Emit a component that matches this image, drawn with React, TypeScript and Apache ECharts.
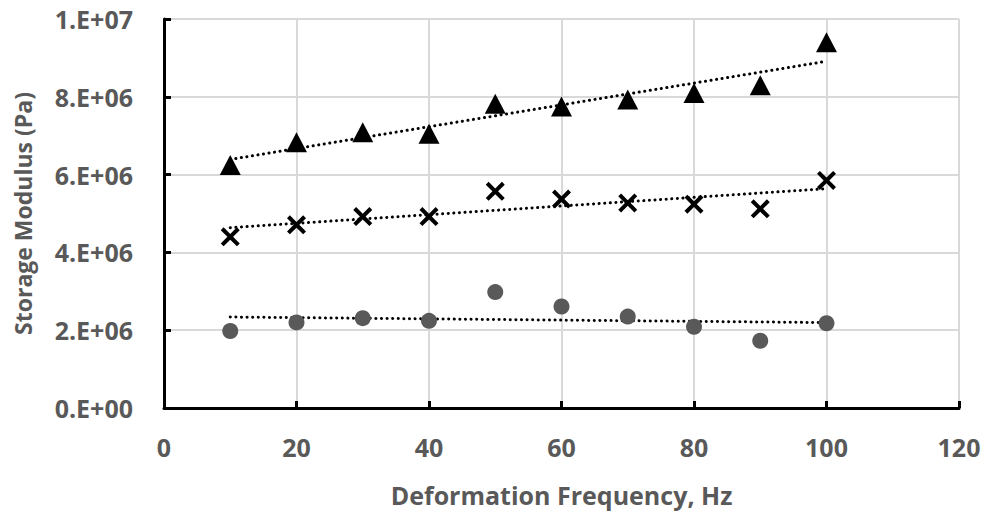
import React, { useEffect, useRef } from "react";
import * as echarts from "echarts";

const frequencies = [10, 20, 30, 40, 50, 60, 70, 80, 90, 100];
const triangleValues = [6.25e6, 6.83e6, 7.09e6, 7.05e6, 7.82e6, 7.75e6, 7.93e6, 8.1e6, 8.3e6, 9.4e6];
const crossValues = [4.4e6, 4.71e6, 4.92e6, 4.92e6, 5.57e6, 5.37e6, 5.27e6, 5.24e6, 5.12e6, 5.85e6];
const circleValues = [1.98e6, 2.2e6, 2.31e6, 2.24e6, 2.98e6, 2.61e6, 2.35e6, 2.09e6, 1.73e6, 2.18e6];

const xTitle = "Deformation Frequency, Hz";
const yTitle = "Storage Modulus (Pa)";

function fit(xs: number[], ys: number[]) {
  const n = xs.length;
  const mx = xs.reduce((a, b) => a + b, 0) / n;
  const my = ys.reduce((a, b) => a + b, 0) / n;
  let sxy = 0, sxx = 0;
  for (let i = 0; i < n; i++) {
    sxy += (xs[i] - mx) * (ys[i] - my);
    sxx += (xs[i] - mx) ** 2;
  }
  const b = sxy / sxx;
  const a = my - b * mx;
  const x0 = xs[0], x1 = xs[n - 1];
  return [[x0, a + b * x0], [x1, a + b * x1]];
}

function sciLabel(v: number) {
  if (v === 0) return "0.E+00";
  const e = Math.floor(Math.log10(v) + 1e-9);
  const m = Math.round(v / Math.pow(10, e));
  return `${m}.E+${String(e).padStart(2, "0")}`;
}

const crossPath =
  "path://M3,0 L10,7 L17,0 L20,3 L13,10 L20,17 L17,20 L10,13 L3,20 L0,17 L7,10 L0,3 Z";

export default function App() {
  const ref = useRef<HTMLDivElement>(null);
  useEffect(() => {
    const chart = echarts.init(ref.current!, null, { renderer: "svg" });
    const pts = (ys: number[]) => frequencies.map((x, i) => [x, ys[i]]);
    const trend = (ys: number[]) => ({
      type: "line",
      data: fit(frequencies, ys),
      showSymbol: false,
      symbol: "none",
      z: 1,
      lineStyle: { color: "#000", width: 3, type: [0.1, 5.5], cap: "round" },
    });
    const font = "'Open Sans', sans-serif";
    chart.setOption({
      animation: false,
      backgroundColor: "#fff",
      grid: { left: 164, right: 28, top: 19, bottom: 107, outerBoundsMode: "none", containLabel: false },
      xAxis: {
        type: "value",
        min: 0,
        max: 120,
        interval: 20,
        name: xTitle,
        nameLocation: "middle",
        nameGap: 74,
        nameTextStyle: { color: "#595959", fontSize: 25, fontWeight: "bold", fontFamily: font },
        axisLine: { show: true, onZero: false, lineStyle: { color: "#000", width: 3 } },
        axisTick: { show: true, inside: true, length: 7, lineStyle: { color: "#000", width: 3 } },
        axisLabel: { color: "#595959", fontSize: 25, fontWeight: "bold", fontFamily: font, margin: 26 },
        splitLine: { show: true, lineStyle: { color: "#d9d9d9", width: 2 } },
      },
      yAxis: {
        type: "value",
        min: 0,
        max: 1e7,
        interval: 2e6,
        name: yTitle,
        nameLocation: "middle",
        nameGap: 130,
        nameRotate: 90,
        nameTextStyle: { color: "#595959", fontSize: 23, fontWeight: "bold", fontFamily: font },
        axisLine: { show: true, onZero: false, lineStyle: { color: "#000", width: 3 } },
        axisTick: { show: true, inside: true, length: 7, lineStyle: { color: "#000", width: 3 } },
        axisLabel: {
          color: "#595959",
          fontSize: 25,
          fontWeight: "bold",
          fontFamily: font,
          margin: 31,
          formatter: (v: number) => sciLabel(v),
        },
        splitLine: { show: true, lineStyle: { color: "#d9d9d9", width: 2 } },
      },
      series: [
        trend(triangleValues),
        trend(crossValues),
        trend(circleValues),
        {
          type: "scatter",
          data: pts(circleValues),
          symbol: "circle",
          symbolSize: 16,
          itemStyle: { color: "#595959", opacity: 1 },
          z: 2,
        },
        {
          type: "scatter",
          data: pts(crossValues),
          symbol: crossPath,
          symbolSize: 19,
          itemStyle: { color: "#000", opacity: 1 },
          z: 2,
        },
        {
          type: "scatter",
          data: pts(triangleValues),
          symbol: "triangle",
          symbolSize: [21, 20],
          itemStyle: { color: "#000", opacity: 1 },
          z: 2,
        },
      ],
    });
    return () => chart.dispose();
  }, []);
  return <div ref={ref} style={{ width: 987, height: 515, position: "absolute", left: 0, top: 0 }} />;
}
